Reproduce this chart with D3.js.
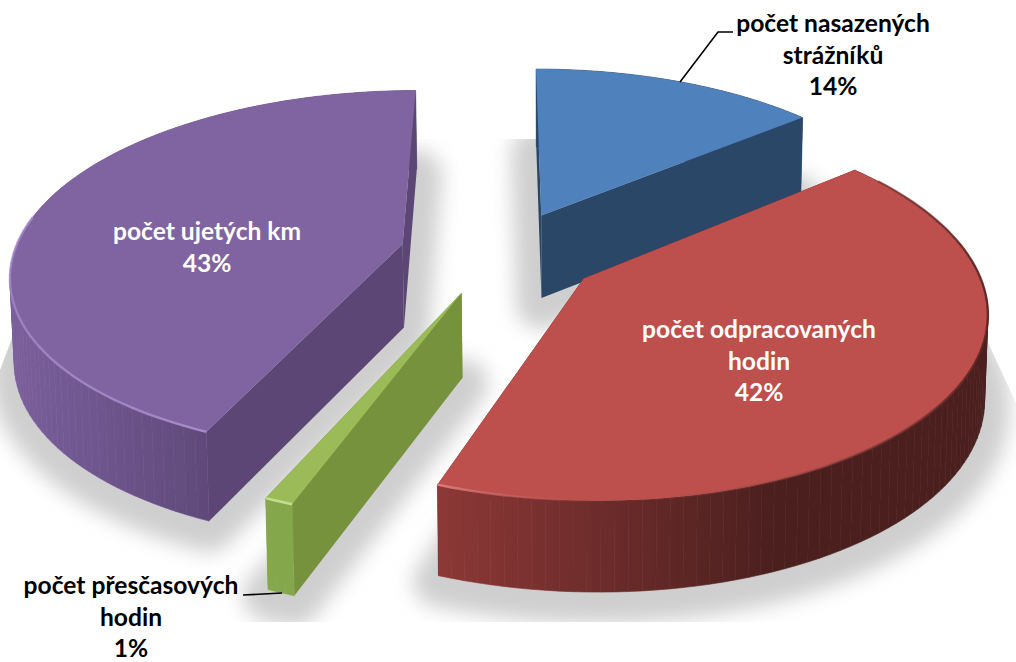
<!DOCTYPE html>
<html>
<head>
<meta charset="utf-8">
<script src="https://cdn.jsdelivr.net/npm/d3@7"></script>
<style>
  html, body { margin: 0; padding: 0; background: #fff; }
  svg { display: block; }
  text { font-family: Lato, "Open Sans", sans-serif; font-weight: 700; font-size: 24.6px; text-anchor: middle; }
</style>
</head>
<body>
<div class="canvas"></div>
<script>
// data
const categories = ['počet nasazených strážníků', 'počet odpracovaných hodin', 'počet přesčasových hodin', 'počet ujetých km'];
const values = [14, 41.6, 1, 43.4]; // slice sizes measured, they round to the printed labels
const percentLabels = ['14%', '42%', '1%', '43%'];
const labelLines = [
    ['počet nasazených', 'strážníků', '14%'],
    ['počet odpracovaných', 'hodin', '42%'],
    ['počet přesčasových', 'hodin', '1%'],
    ['počet ujetých km', '43%']
];

const dims = { width: 1016, height: 662 };

// camera fitted on the picture: vanishing point and scale for the top and bottom plane
const topPlane = { xv: 501, yh: -920, a: 1150, b: 381 };
const botPlane = { xv: 501.5, yh: -873, a: 1186, b: 378 };
const persp = 0.15;

// how far each slice is pulled out of the pie (ground units)
const explode = [
    { u: 0.107, v: 0.085 },
    { u: 0.208, v: -0.27 },
    { u: -0.098, v: -0.345 },
    { u: -0.255, v: -0.08 }
];

const styles = [
    { top: '#4f81bd', rim: null, radial: '#2a4767', wall: ['#2a4767', '#2a4767'], label: '#000' },
    { top: '#bd4f4c', rim: '#dc7f7c', radial: '#4a1f1e', wall: ['#8c3836', '#4a1f1e'], label: '#fff' },
    { top: '#9bbb59', rim: '#c4dd8e', radial: '#76923c', wall: ['#86a84c', '#7d9c45'], label: '#000' },
    { top: '#8064a2', rim: '#a88ccb', radial: '#5c4675', wall: ['#7a5f9c', '#5c4675'], label: '#fff' }
];

const labelPos = [
    { x: 833, y: 32 },
    { x: 759, y: 338 },
    { x: 131, y: 594 },
    { x: 207, y: 240 }
];
const lineGap = 31.5;

const svg = d3.select('.canvas')
    .append('svg')
    .attr('width', dims.width)
    .attr('height', dims.height);

const defs = svg.append('defs');
defs.append('filter').attr('id', 'soft').attr('x', '-20%').attr('y', '-20%').attr('width', '140%').attr('height', '140%')
    .append('feGaussianBlur').attr('stdDeviation', 10);
defs.append('filter').attr('id', 'rimBlur').attr('filterUnits', 'userSpaceOnUse')
    .attr('x', 0).attr('y', 0).attr('width', dims.width).attr('height', dims.height)
    .append('feGaussianBlur').attr('stdDeviation', 0.7);
// the shadow is cut off by the floor of the 3d scene
defs.append('clipPath').attr('id', 'floor')
    .append('polygon').attr('points', '87,139 894,139 1016,403 1016,622 0,622 0,370');

// pie generator, clockwise from 12 o'clock
const pie = d3.pie().sort(null).value(d => d);
const slices = pie(values);

// ground coordinates -> screen
const project = (plane, u, v) => {
    const d = 1 + persp * v;
    return [plane.xv + plane.b * u / d, plane.yh + plane.a / d];
};

const outline = (i, plane, a0, a1) => {
    const off = explode[i];
    const steps = Math.max(2, Math.ceil((a1 - a0) / 0.03));
    return d3.range(steps + 1).map(k => {
        const a = a0 + (a1 - a0) * k / steps;
        return project(plane, off.u + Math.sin(a), off.v + Math.cos(a));
    });
};
const apex = (i, plane) => project(plane, explode[i].u, explode[i].v);
const line = d3.line();

// SHADOW
const shadow = svg.append('g').attr('clip-path', 'url(#floor)')
    .append('g').attr('filter', 'url(#soft)').attr('transform', 'translate(0,6)');
slices.forEach((s, i) => {
    shadow.append('path')
        .attr('d', line([apex(i, botPlane), ...outline(i, botPlane, s.startAngle, s.endAngle)]) + 'Z')
        .attr('fill', '#cfcfcf')
        .attr('stroke', '#cfcfcf')
        .attr('stroke-width', 50)
        .attr('stroke-linejoin', 'round');
});

// SLICES - back to front
[0, 3, 2, 1].forEach(i => {
    const s = slices[i];
    const st = styles[i];
    const g = svg.append('g').attr('class', 'arc');
    const arcTop = outline(i, topPlane, s.startAngle, s.endAngle);
    const arcBot = outline(i, botPlane, s.startAngle, s.endAngle);
    const aT = apex(i, topPlane);
    const aB = apex(i, botPlane);

    // radial walls
    [[arcTop[0], arcBot[0]], [arcTop[arcTop.length - 1], arcBot[arcBot.length - 1]]].forEach(e => {
        g.append('path')
            .attr('d', line([aT, e[0], e[1], aB]) + 'Z')
            .attr('fill', st.radial);
    });

    // outer wall with a horizontal gradient, one quad per arc step
    const x0 = d3.min(arcBot, p => p[0]);
    const gradId = 'wall' + i;
    const grad = defs.append('linearGradient').attr('id', gradId)
        .attr('gradientUnits', 'userSpaceOnUse')
        .attr('x1', x0).attr('x2', x0 + (i === 3 ? 220 : 340))
        .attr('y1', 0).attr('y2', 0);
    grad.append('stop').attr('offset', 0).attr('stop-color', st.wall[0]);
    grad.append('stop').attr('offset', 1).attr('stop-color', st.wall[1]);
    g.selectAll('.wall')
        .data(d3.range(arcTop.length - 1))
        .enter()
        .append('path')
        .attr('class', 'wall')
        .attr('d', k => line([arcTop[k], arcTop[k + 1], arcBot[k + 1], arcBot[k]]) + 'Z')
        .attr('fill', `url(#${gradId})`)
        .attr('stroke', `url(#${gradId})`)
        .attr('stroke-width', 0.6);

    // top face
    g.append('path')
        .attr('d', line([aT, ...arcTop]) + 'Z')
        .attr('fill', st.top);

    // bevel on the front part of the rim: light on the left, dark on the right
    if (st.rim) {
        const front = outline(i, topPlane, Math.max(s.startAngle, Math.PI / 2 - 0.6), Math.min(s.endAngle, Math.PI * 1.55));
        const rx0 = d3.min(front, p => p[0]);
        const rimId = 'rim' + i;
        const r = defs.append('linearGradient').attr('id', rimId)
            .attr('gradientUnits', 'userSpaceOnUse')
            .attr('x1', rx0).attr('x2', rx0 + (i === 1 ? 550 : 210)).attr('y1', 0).attr('y2', 0);
        r.append('stop').attr('offset', 0).attr('stop-color', st.rim).attr('stop-opacity', i === 3 ? 0.7 : 1);
        if (i === 1) {
            r.append('stop').attr('offset', 0.3).attr('stop-color', st.top).attr('stop-opacity', 0);
            r.append('stop').attr('offset', 1).attr('stop-color', '#5a2422').attr('stop-opacity', 0.9);
        } else {
            r.append('stop').attr('offset', 1).attr('stop-color', st.rim).attr('stop-opacity', 1);
        }
        g.append('path')
            .attr('d', line(front))
            .attr('fill', 'none')
            .attr('stroke', `url(#${rimId})`)
            .attr('stroke-width', 2.4)
            .attr('filter', 'url(#rimBlur)');
    }
});

// LEADER LINES
const leaders = [
    [[680, 82], [718, 32], [733, 32]],
    [[243, 595], [282, 593]]
];
svg.selectAll('.leader')
    .data(leaders)
    .enter()
    .append('path')
    .attr('class', 'leader')
    .attr('d', line)
    .attr('fill', 'none')
    .attr('stroke', '#000')
    .attr('stroke-width', 1.6);

// LABELS
labelLines.forEach((lines, i) => {
    const t = svg.append('text')
        .attr('fill', styles[i].label)
        .attr('aria-label', categories[i] + ' ' + percentLabels[i]);
    lines.forEach((txt, k) => {
        t.append('tspan')
            .attr('x', labelPos[i].x)
            .attr('y', labelPos[i].y + k * lineGap)
            .text(txt);
    });
});
</script>
</body>
</html>
